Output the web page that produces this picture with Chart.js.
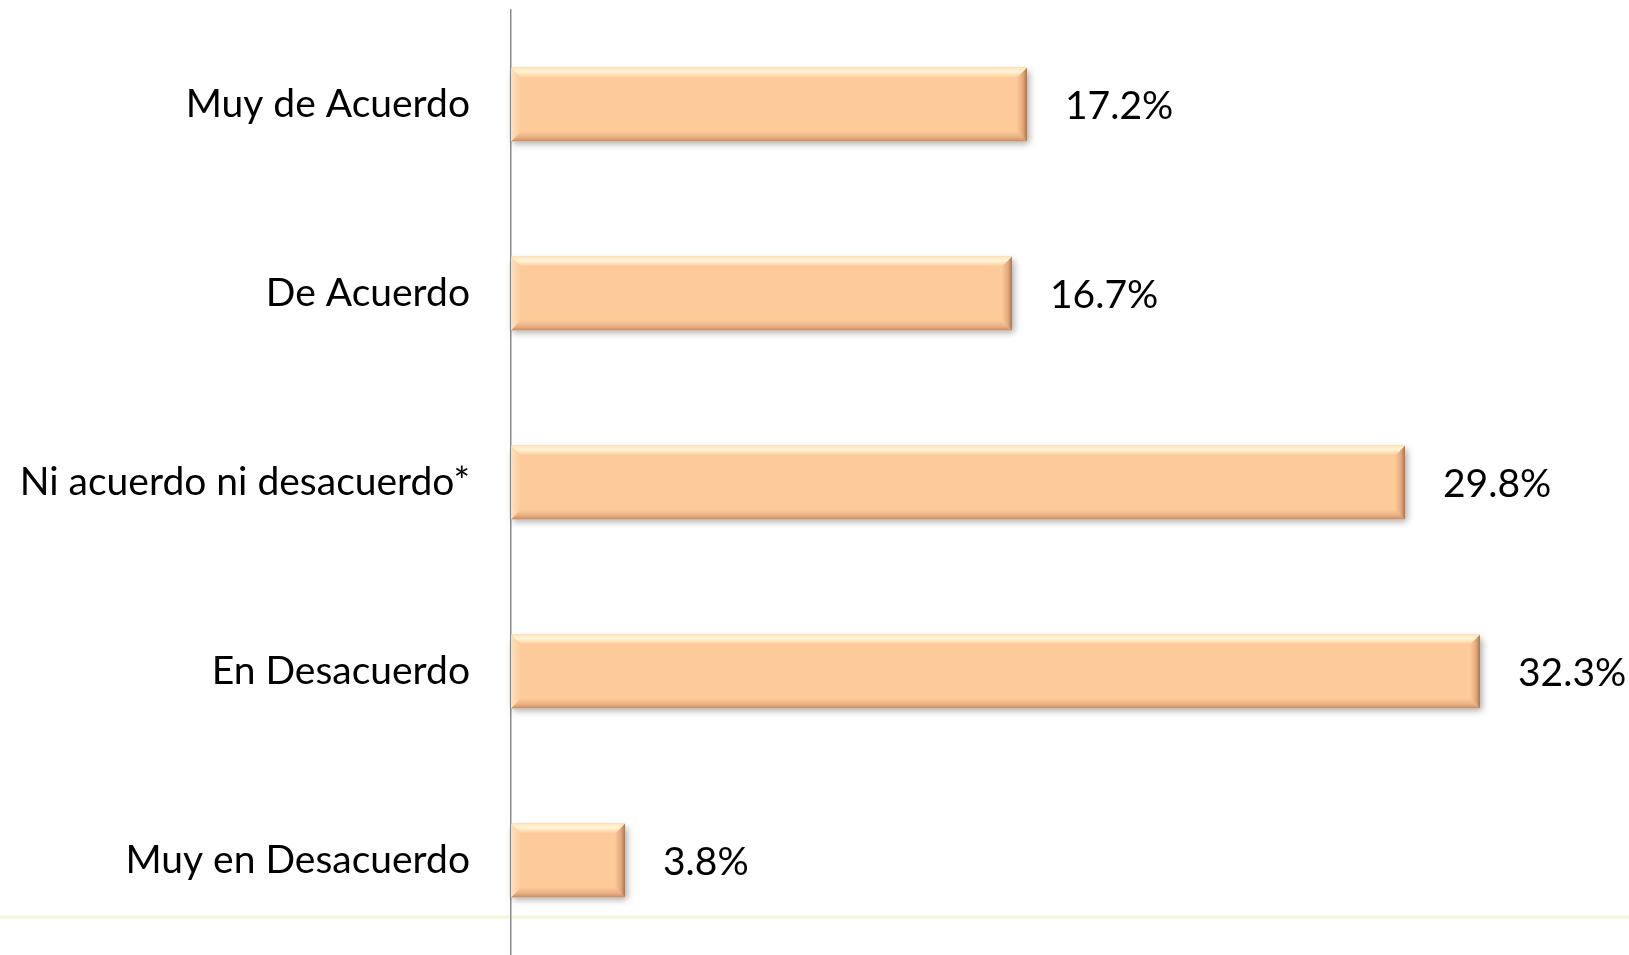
<!DOCTYPE html>
<html>
<head>
  <title>Grado de acuerdo</title>
  <script src="https://cdn.jsdelivr.net/npm/chart.js@4.4.0/dist/chart.umd.min.js"></script>
  <style>
html, body {
  margin: 0;
  padding: 0;
  background: #ffffff;
}

.chart-container {
  width: 1629px;
  height: 955px;
}
  </style>
</head>
<body>
  <div class="chart-container">
    <canvas id="acuerdoChart"></canvas>
  </div>
  <script type="text/javascript">
    // Categories and values
    var categories = ['Muy de Acuerdo', 'De Acuerdo', 'Ni acuerdo ni desacuerdo*', 'En Desacuerdo', 'Muy en Desacuerdo'];
    var percentages = [17.2, 16.7, 29.8, 32.3, 3.8];

    var barFill = '#fdca9a';
    var labelFont = { family: 'Lato, "Open Sans", sans-serif', size: 39 };

    // Shadow under each bar, drawn before the bars
    var barShadow = {
      id: 'barShadow',
      beforeDatasetsDraw: function(chart) {
        var ctx = chart.ctx;
        var meta = chart.getDatasetMeta(0);
        ctx.save();
        ctx.shadowColor = 'rgba(0, 0, 0, 0.35)';
        ctx.shadowBlur = 7;
        ctx.shadowOffsetX = 2;
        ctx.shadowOffsetY = 3;
        ctx.fillStyle = barFill;
        meta.data.forEach(function(bar) {
          var top = bar.y - bar.height / 2;
          ctx.fillRect(bar.base, top, bar.x - bar.base, bar.height);
        });
        ctx.restore();
      }
    };

    // Bevel edges and value labels on top of the bars
    var barBevel = {
      id: 'barBevel',
      afterDatasetsDraw: function(chart) {
        var ctx = chart.ctx;
        var meta = chart.getDatasetMeta(0);
        var b = 10;
        ctx.save();
        meta.data.forEach(function(bar, i) {
          var l = bar.base, r = bar.x;
          var t = bar.y - bar.height / 2, btm = bar.y + bar.height / 2;

          // top highlight
          var g = ctx.createLinearGradient(0, t, 0, t + b);
          g.addColorStop(0, '#ffe6bd');
          g.addColorStop(0.4, '#fff5d6');
          g.addColorStop(1, barFill);
          ctx.fillStyle = g;
          ctx.beginPath();
          ctx.moveTo(l, t); ctx.lineTo(r, t); ctx.lineTo(r - b, t + b); ctx.lineTo(l + b, t + b);
          ctx.closePath(); ctx.fill();

          // bottom shade
          g = ctx.createLinearGradient(0, btm - b, 0, btm);
          g.addColorStop(0, barFill);
          g.addColorStop(0.6, '#eab084');
          g.addColorStop(1, '#c68c64');
          ctx.fillStyle = g;
          ctx.beginPath();
          ctx.moveTo(l, btm); ctx.lineTo(r, btm); ctx.lineTo(r - b, btm - b); ctx.lineTo(l + b, btm - b);
          ctx.closePath(); ctx.fill();

          // right shade
          g = ctx.createLinearGradient(r - b, 0, r, 0);
          g.addColorStop(0, barFill);
          g.addColorStop(0.6, '#e3a87c');
          g.addColorStop(1, '#a8764f');
          ctx.fillStyle = g;
          ctx.beginPath();
          ctx.moveTo(r, t); ctx.lineTo(r, btm); ctx.lineTo(r - b, btm - b); ctx.lineTo(r - b, t + b);
          ctx.closePath(); ctx.fill();

          // left highlight
          g = ctx.createLinearGradient(l, 0, l + b, 0);
          g.addColorStop(0, '#ffe2bc');
          g.addColorStop(1, barFill);
          ctx.fillStyle = g;
          ctx.beginPath();
          ctx.moveTo(l, t); ctx.lineTo(l, btm); ctx.lineTo(l + b, btm - b); ctx.lineTo(l + b, t + b);
          ctx.closePath(); ctx.fill();

          // value label
          ctx.fillStyle = '#000000';
          ctx.font = labelFont.size + 'px ' + labelFont.family;
          ctx.textAlign = 'left';
          ctx.textBaseline = 'middle';
          ctx.fillText(percentages[i].toFixed(1) + '%', r + 38, bar.y + 2);
        });
        ctx.restore();
      }
    };

    // Faint pale line near the bottom of the plot
    var bottomLine = {
      id: 'bottomLine',
      beforeDraw: function(chart) {
        var ctx = chart.ctx;
        ctx.save();
        ctx.strokeStyle = 'rgba(238, 238, 190, 0.6)';
        ctx.lineWidth = 3;
        ctx.beginPath();
        ctx.moveTo(0, 917);
        ctx.lineTo(chart.width, 917);
        ctx.stroke();
        ctx.restore();
      }
    };

    var ctx = document.getElementById('acuerdoChart').getContext('2d');
    var acuerdoChart = new Chart(ctx, {
      type: 'bar',
      data: {
        labels: categories,
        datasets: [{
          data: percentages,
          backgroundColor: barFill,
          borderWidth: 0,
          categoryPercentage: 1.0,
          barPercentage: 0.39
        }]
      },
      options: {
        indexAxis: 'y',
        responsive: true,
        maintainAspectRatio: false,
        animation: false,
        layout: {
          padding: { top: 10, right: 8, bottom: 0, left: 0 }
        },
        plugins: {
          legend: { display: false },
          tooltip: { enabled: false }
        },
        scales: {
          x: {
            min: 0,
            max: 37,
            display: false
          },
          y: {
            grid: { display: false, drawTicks: false },
            border: { display: true, color: '#8c8c8c', width: 1.5 },
            ticks: {
              color: '#000000',
              font: labelFont,
              padding: 41
            },
            afterFit: function(scale) {
              scale.width = 511;
              scale.paddingTop = 0;
              scale.paddingBottom = 0;
            }
          }
        }
      },
      plugins: [bottomLine, barShadow, barBevel]
    });
  </script>
</body>
</html>
